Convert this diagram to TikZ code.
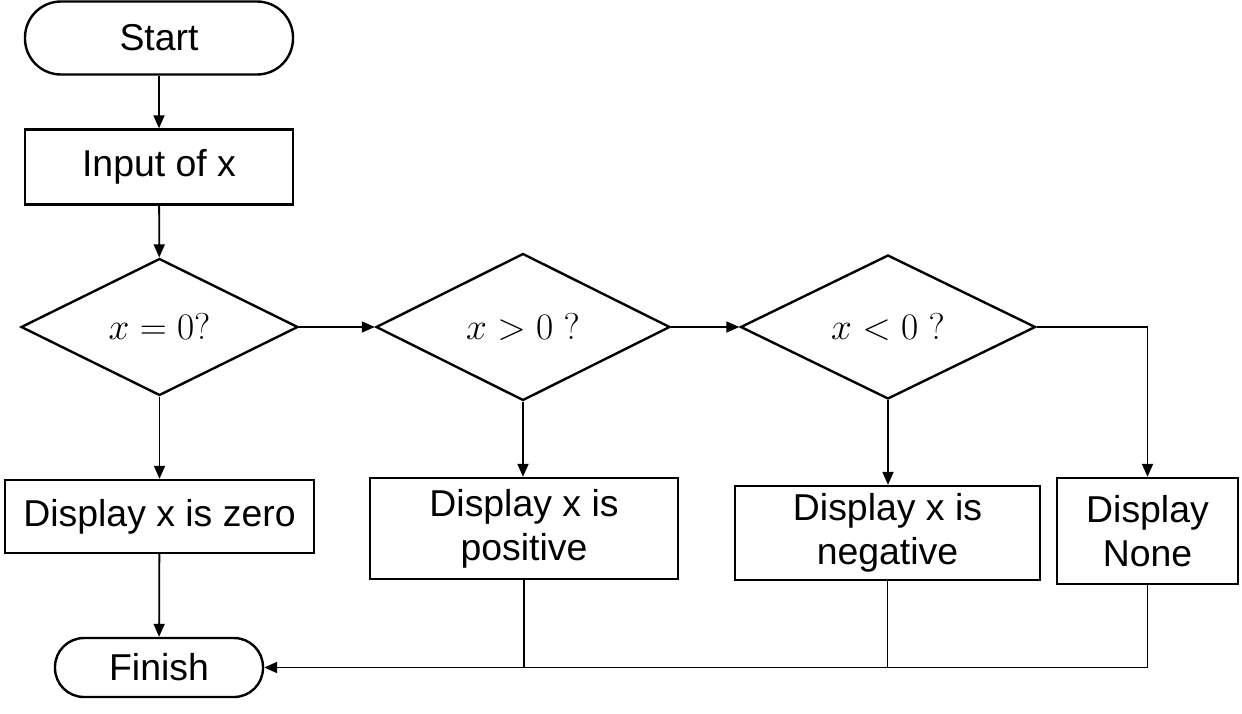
\RequirePackage{fix-cm}
\documentclass[tikz,border=0pt]{standalone}
\usepackage{fontspec}
\setmainfont{Liberation Sans}
\usetikzlibrary{arrows.meta,shapes.geometric}
\begin{document}
\begin{tikzpicture}[x=1pt,y=-1pt,
  txt/.style={font=\fontsize{37.4}{44}\selectfont},
  box/.style={draw, line width=2.4pt, rectangle, inner sep=0pt, align=center, txt},
  term/.style={box, rounded corners=#1},
  dec/.style={draw, diamond, line width=2.4pt, inner sep=0pt, txt},
  conn/.style={line width=1.8pt},
  arr/.style={conn, -{Triangle[length=13pt,width=11pt]}}]
\useasboundingbox (0,0) rectangle (1242,713);
\node[term=36pt, minimum width=268pt, minimum height=73pt] (start) at (159,38) {Start};
\node[box, minimum width=268pt, minimum height=75pt] (input) at (159,167) {Input of x};
\node[dec, minimum width=277pt, minimum height=137pt] (d1) at (159.5,327) {$x=0?$};
\node[dec, minimum width=294pt, minimum height=147pt] (d2) at (523,327) {$x>0\ ?$};
\node[dec, minimum width=295pt, minimum height=144pt] (d3) at (888,327) {$x<0\ ?$};
\node[box, minimum width=309pt, minimum height=73pt] (zero) at (159.5,516.5) {Display x is zero};
\node[box, minimum width=308pt, minimum height=101pt] (pos) at (524,528.5) {Display x is\\positive};
\node[box, minimum width=305pt, minimum height=94pt] (neg) at (887.5,533) {Display x is\\negative};
\node[box, minimum width=181pt, minimum height=106pt] (none) at (1147.5,531) {Display\\None};
\node[term=29pt, minimum width=208pt, minimum height=59pt] (fin) at (159,667.5) {Finish};
\draw[arr] (start) -- (input);
\draw[arr] (input) -- (d1);
\draw[arr] (d1.east) -- (d2.west);
\draw[arr] (d2.east) -- (d3.west);
\draw[arr] (d1.south) -- (zero.north);
\draw[arr] (d2.south) -- (d2.south |- pos.north);
\draw[arr] (d3.south) -- (d3.south |- neg.north);
\draw[arr] (d3.east) -| (none.north);
\draw[arr] (zero) -- (fin);
\draw[arr] (none.south) |- (fin.east);
\draw[conn] (pos.south) -- (pos.south |- fin.east);
\draw[conn] (neg.south) -- (neg.south |- fin.east);
\end{tikzpicture}
\end{document}
